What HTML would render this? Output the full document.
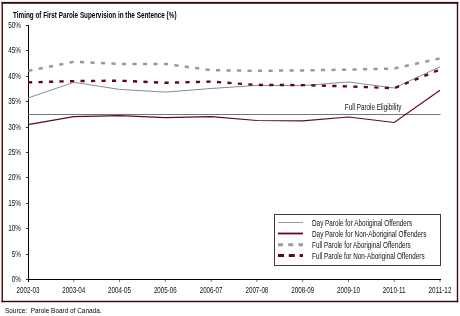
<!DOCTYPE html>
<html><head><meta charset="utf-8"><style>
html,body{margin:0;padding:0;background:#fff;width:460px;height:316px;overflow:hidden}
svg{display:block;will-change:transform}
</style></head><body>
<svg width="460" height="316" viewBox="0 0 460 316">
<rect width="460" height="316" fill="#fff"/>
<rect x="1.5" y="1.9" width="456.7" height="1.9" fill="#3d0508"/>
<rect x="1.5" y="1.9" width="1.5" height="300.3" fill="#5a1515"/>
<rect x="456.8" y="1.9" width="1.4" height="300.3" fill="#3a0c10"/>
<rect x="1.5" y="300.8" width="456.7" height="1.4" fill="#2e0608"/>
<text x="13" y="17.9" font-family='"Liberation Sans", sans-serif' font-weight="bold" font-size="8.4" textLength="163.5" lengthAdjust="spacingAndGlyphs" fill="#000">Timing of First Parole Supervision in the Sentence (%)</text>
<rect x="28" y="25" width="1" height="257" fill="#000"/>
<rect x="26" y="279" width="415" height="1" fill="#000"/>
<rect x="26" y="25" width="2" height="1" fill="#333"/>
<rect x="26" y="50" width="2" height="1" fill="#333"/>
<rect x="26" y="76" width="2" height="1" fill="#333"/>
<rect x="26" y="101" width="2" height="1" fill="#333"/>
<rect x="26" y="127" width="2" height="1" fill="#333"/>
<rect x="26" y="152" width="2" height="1" fill="#333"/>
<rect x="26" y="177" width="2" height="1" fill="#333"/>
<rect x="26" y="203" width="2" height="1" fill="#333"/>
<rect x="26" y="228" width="2" height="1" fill="#333"/>
<rect x="26" y="254" width="2" height="1" fill="#333"/>
<rect x="26" y="279" width="2" height="1" fill="#333"/>
<rect x="73.28" y="280" width="1" height="2" fill="#777"/>
<rect x="119.06" y="280" width="1" height="2" fill="#777"/>
<rect x="164.83" y="280" width="1" height="2" fill="#777"/>
<rect x="210.61" y="280" width="1" height="2" fill="#777"/>
<rect x="256.39" y="280" width="1" height="2" fill="#777"/>
<rect x="302.17" y="280" width="1" height="2" fill="#777"/>
<rect x="347.94" y="280" width="1" height="2" fill="#777"/>
<rect x="393.72" y="280" width="1" height="2" fill="#777"/>
<rect x="439.50" y="280" width="1" height="2" fill="#777"/>
<text x="21" y="28.00" text-anchor="end" font-family='"Liberation Sans", sans-serif' font-size="8.2" fill="#111" transform="translate(4.62,0) scale(0.78,1)">50%</text>
<text x="21" y="53.40" text-anchor="end" font-family='"Liberation Sans", sans-serif' font-size="8.2" fill="#111" transform="translate(4.62,0) scale(0.78,1)">45%</text>
<text x="21" y="78.80" text-anchor="end" font-family='"Liberation Sans", sans-serif' font-size="8.2" fill="#111" transform="translate(4.62,0) scale(0.78,1)">40%</text>
<text x="21" y="104.20" text-anchor="end" font-family='"Liberation Sans", sans-serif' font-size="8.2" fill="#111" transform="translate(4.62,0) scale(0.78,1)">35%</text>
<text x="21" y="129.60" text-anchor="end" font-family='"Liberation Sans", sans-serif' font-size="8.2" fill="#111" transform="translate(4.62,0) scale(0.78,1)">30%</text>
<text x="21" y="155.00" text-anchor="end" font-family='"Liberation Sans", sans-serif' font-size="8.2" fill="#111" transform="translate(4.62,0) scale(0.78,1)">25%</text>
<text x="21" y="180.40" text-anchor="end" font-family='"Liberation Sans", sans-serif' font-size="8.2" fill="#111" transform="translate(4.62,0) scale(0.78,1)">20%</text>
<text x="21" y="205.80" text-anchor="end" font-family='"Liberation Sans", sans-serif' font-size="8.2" fill="#111" transform="translate(4.62,0) scale(0.78,1)">15%</text>
<text x="21" y="231.20" text-anchor="end" font-family='"Liberation Sans", sans-serif' font-size="8.2" fill="#111" transform="translate(4.62,0) scale(0.78,1)">10%</text>
<text x="21" y="256.60" text-anchor="end" font-family='"Liberation Sans", sans-serif' font-size="8.2" fill="#111" transform="translate(4.62,0) scale(0.78,1)">5%</text>
<text x="21" y="282.00" text-anchor="end" font-family='"Liberation Sans", sans-serif' font-size="8.2" fill="#111" transform="translate(4.62,0) scale(0.78,1)">0%</text>
<text x="28.00" y="292.9" text-anchor="middle" font-family='"Liberation Sans", sans-serif' font-size="8.4" fill="#111" textLength="22.9" lengthAdjust="spacingAndGlyphs">2002-03</text>
<text x="73.78" y="292.9" text-anchor="middle" font-family='"Liberation Sans", sans-serif' font-size="8.4" fill="#111" textLength="22.9" lengthAdjust="spacingAndGlyphs">2003-04</text>
<text x="119.56" y="292.9" text-anchor="middle" font-family='"Liberation Sans", sans-serif' font-size="8.4" fill="#111" textLength="22.9" lengthAdjust="spacingAndGlyphs">2004-05</text>
<text x="165.33" y="292.9" text-anchor="middle" font-family='"Liberation Sans", sans-serif' font-size="8.4" fill="#111" textLength="22.9" lengthAdjust="spacingAndGlyphs">2005-06</text>
<text x="211.11" y="292.9" text-anchor="middle" font-family='"Liberation Sans", sans-serif' font-size="8.4" fill="#111" textLength="22.9" lengthAdjust="spacingAndGlyphs">2006-07</text>
<text x="256.89" y="292.9" text-anchor="middle" font-family='"Liberation Sans", sans-serif' font-size="8.4" fill="#111" textLength="22.9" lengthAdjust="spacingAndGlyphs">2007-08</text>
<text x="302.67" y="292.9" text-anchor="middle" font-family='"Liberation Sans", sans-serif' font-size="8.4" fill="#111" textLength="22.9" lengthAdjust="spacingAndGlyphs">2008-09</text>
<text x="348.44" y="292.9" text-anchor="middle" font-family='"Liberation Sans", sans-serif' font-size="8.4" fill="#111" textLength="22.9" lengthAdjust="spacingAndGlyphs">2009-10</text>
<text x="394.22" y="292.9" text-anchor="middle" font-family='"Liberation Sans", sans-serif' font-size="8.4" fill="#111" textLength="22.9" lengthAdjust="spacingAndGlyphs">2010-11</text>
<text x="440.00" y="292.9" text-anchor="middle" font-family='"Liberation Sans", sans-serif' font-size="8.4" fill="#111" textLength="22.9" lengthAdjust="spacingAndGlyphs">2011-12</text>
<rect x="28" y="114" width="412.5" height="1" fill="#767676"/>
<text x="344.8" y="110.3" font-family='"Liberation Sans", sans-serif' font-size="8.6" fill="#111" textLength="56.5" lengthAdjust="spacingAndGlyphs">Full Parole Eligibility</text>
<polyline points="28.00,98.00 73.78,82.30 119.56,89.40 165.33,92.10 211.11,88.50 256.89,85.40 302.67,85.60 348.44,82.00 394.22,88.00 440.00,66.80" fill="none" stroke="#8c8c8c" stroke-width="1"/>
<polyline points="28.00,124.60 73.78,116.70 119.56,115.60 165.33,117.60 211.11,116.70 256.89,120.50 302.67,120.90 348.44,117.00 394.22,122.50 440.00,90.30" fill="none" stroke="#5e0a14" stroke-width="1.2"/>
<polyline points="28.00,70.90 73.78,61.80 119.56,63.90 165.33,63.90 211.11,70.20 256.89,70.80 302.67,70.40 348.44,69.60 394.22,68.50 440.00,58.40" fill="none" stroke="#999999" stroke-width="2.5" stroke-dasharray="4.2 6.3" stroke-dashoffset="-0.35"/>
<polyline points="28.00,82.40 73.78,81.10 119.56,80.70 165.33,82.80 211.11,81.60 256.89,85.00 302.67,85.10 348.44,86.40 394.22,88.20 440.00,69.50" fill="none" stroke="#5e0a14" stroke-width="2.4" stroke-dasharray="4.2 6.3"/>
<rect x="274.5" y="214.5" width="166" height="51" fill="#fff" stroke="#4a3636" stroke-width="1"/>
<line x1="278" y1="222.50" x2="303" y2="222.50" stroke="#999" stroke-width="1"/>
<text x="312" y="226.20" font-family='"Liberation Sans", sans-serif' font-size="8.8" fill="#111" textLength="100.2" lengthAdjust="spacingAndGlyphs">Day Parole for Aboriginal Offenders</text>
<line x1="278" y1="233.50" x2="303" y2="233.50" stroke="#5e0a14" stroke-width="1.8"/>
<text x="312" y="237.10" font-family='"Liberation Sans", sans-serif' font-size="8.8" fill="#111" textLength="114.4" lengthAdjust="spacingAndGlyphs">Day Parole for Non-Aboriginal Offenders</text>
<line x1="278" y1="244.70" x2="303" y2="244.70" stroke="#9c9c9c" stroke-width="3" stroke-dasharray="5 5.2"/>
<text x="312" y="248.00" font-family='"Liberation Sans", sans-serif' font-size="8.8" fill="#111" textLength="98.8" lengthAdjust="spacingAndGlyphs">Full Parole for Aboriginal Offenders</text>
<line x1="278" y1="255.60" x2="303" y2="255.60" stroke="#5e0a14" stroke-width="3" stroke-dasharray="6 4.8"/>
<text x="312" y="258.90" font-family='"Liberation Sans", sans-serif' font-size="8.8" fill="#111" textLength="112.6" lengthAdjust="spacingAndGlyphs">Full Parole for Non-Aboriginal Offenders</text>
<text x="5" y="312.5" font-family='"Liberation Sans", sans-serif' font-size="8.1" fill="#000" textLength="96.5" lengthAdjust="spacingAndGlyphs" xml:space="preserve">Source:  Parole Board of Canada.</text>
</svg>
</body></html>
